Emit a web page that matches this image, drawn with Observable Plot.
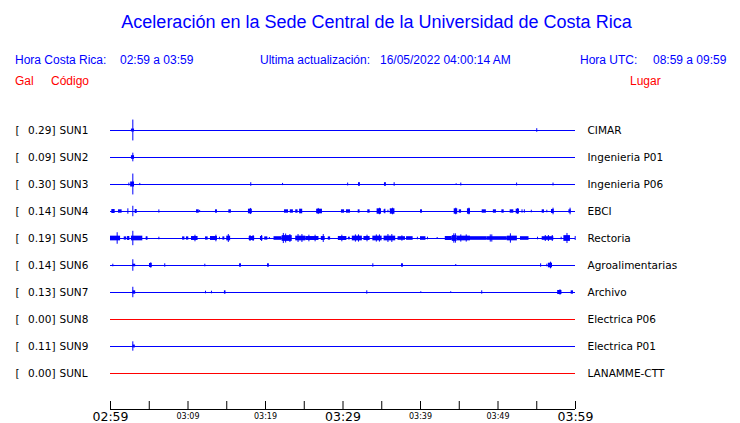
<!DOCTYPE html>
<html><head><meta charset="utf-8">
<script src="https://cdn.jsdelivr.net/npm/d3@7"></script>
<script src="https://cdn.jsdelivr.net/npm/@observablehq/plot@0.6"></script>
<style>
html,body{margin:0;padding:0;background:#fff;}
#wrap{position:relative;width:740px;height:423px;overflow:hidden;}
#head{position:relative;width:740px;height:96px;font-family:"Liberation Sans",Arial,sans-serif;}
#head span{position:absolute;white-space:pre;line-height:1;}
.t{font-size:18px;color:#0000ff;}
.h{font-size:12px;color:#0000ff;}
.r{font-size:12px;color:#ff0000;}
#chart svg{display:block;}
</style></head><body>
<div id="wrap"><div id="head"></div><div id="chart"></div></div>
<script>
// ---------- data ----------
const title = "Aceleración en la Sede Central de la Universidad de Costa Rica";
const headerBlue = [
  ["Hora Costa Rica:", 15], ["02:59 a 03:59", 120],
  ["Ultima actualización:", 260], ["16/05/2022 04:00:14 AM", 380],
  ["Hora UTC:", 580], ["08:59 a 09:59", 653]
];
const headerRed = [["Gal", 15], ["Código", 51], ["Lugar", 630]];

const codes  = ["SUN1","SUN2","SUN3","SUN4","SUN5","SUN6","SUN7","SUN8","SUN9","SUNL"];
const places = ["CIMAR","Ingenieria P01","Ingenieria P06","EBCI","Rectoria","Agroalimentarias","Archivo","Electrica P06","Electrica P01","LANAMME-CTT"];
const peaks  = [0.29, 0.09, 0.30, 0.14, 0.19, 0.14, 0.13, 0.00, 0.11, 0.00];

// single spikes per station: [minutes after 02:59, half amplitude (gal)]
const spikesSUN1 = [[2.88,0.29],[55.0,0.05]];
const spikesSUN2 = [[2.88,0.12]];
const spikesSUN3 = [[2.88,0.29],[2.37,0.04],[3.78,0.03],[18.1,0.05],[22.2,0.03],[30.6,0.04],[36.6,0.05],[44.6,0.02],[45.2,0.04],[52.4,0.04],[57.1,0.04]];
const spikesSUN4 = [[2.24,0.075],[2.88,0.145],[6.24,0.045],[11.5,0.03],[18.05,0.085],[26.8,0.085],[34.7,0.09],[35.4,0.064],[35.8,0.036],[36.4,0.092],[44.55,0.092],[46.25,0.092],[52.55,0.083],[53.1,0.047],[53.4,0.047],[54.3,0.036],[56.3,0.036],[57.1,0.092],[59.3,0.092]];
const spikesSUN5 = [[0.86,0.16],[2.88,0.20],[4.7,0.047],[6.24,0.036],[10.9,0.092],[13.6,0.092],[14.06,0.036],[15.2,0.11],[18.0,0.083],[18.4,0.083],[19.5,0.083],[20.5,0.028],[22.3,0.14],[22.6,0.125],[23.15,0.11],[24.2,0.11],[24.7,0.11],[25.6,0.092],[26.4,0.092],[27.45,0.11],[29.85,0.092],[30.8,0.036],[31.6,0.10],[32.0,0.10],[33.1,0.092],[34.3,0.10],[34.7,0.10],[35.8,0.11],[36.3,0.11],[37.6,0.075],[39.6,0.036],[40.9,0.036],[42.15,0.028],[44.3,0.13],[44.5,0.13],[45.2,0.10],[45.9,0.10],[49.0,0.10],[49.2,0.10],[51.6,0.13],[55.1,0.036],[56.1,0.083],[56.5,0.083],[57.0,0.083],[58.15,0.036],[58.9,0.14],[59.96,0.056]];
const spikesSUN6 = [[0.3,0.036],[2.88,0.16],[5.2,0.075],[7.0,0.047],[12.17,0.036],[33.85,0.047],[44.55,0.028],[55.5,0.047],[56.3,0.036],[56.77,0.092]];
const spikesSUN7 = [[2.88,0.145],[12.26,0.036],[13.03,0.036],[33.07,0.047],[40.04,0.02],[43.9,0.02],[47.9,0.047],[58.0,0.075]];
const spikesSUN8 = [];
const spikesSUN9 = [[2.88,0.13]];
const spikesSUNL = [];

// bursts of activity: [start minute, end minute, half amplitude (gal)]
const burstsSUN1 = [[2.7,3.1,0.04]];
const burstsSUN2 = [[2.7,3.1,0.05]];
const burstsSUN3 = [[2.6,3.1,0.07],[32.0,32.25,0.05],[35.35,35.6,0.05]];
const burstsSUN4 = [[0.17,0.6,0.055],[1.03,1.5,0.047],[3.18,3.44,0.055],[11.1,11.45,0.047],[13.55,13.8,0.047],[15.27,15.6,0.047],[17.8,18.3,0.064],[22.45,22.97,0.047],[23.2,23.6,0.047],[23.9,24.2,0.047],[24.4,24.8,0.064],[26.6,27.35,0.064],[29.8,30.2,0.047],[30.45,30.97,0.047],[31.96,32.2,0.047],[33.2,33.5,0.047],[34.4,34.97,0.075],[35.3,35.5,0.047],[36.1,36.7,0.075],[40,40.26,0.047],[44.35,44.8,0.075],[45.0,45.3,0.047],[46.06,46.45,0.075],[47.96,48.5,0.047],[49.4,49.8,0.047],[50.5,50.8,0.047],[51.57,52.04,0.047],[52.35,52.77,0.064],[55.7,56.0,0.047],[56.9,57.25,0.056],[59.15,59.45,0.047]];
const burstsSUN5 = [[0,1.3,0.065],[1.77,2.1,0.045],[2.2,2.5,0.055],[2.7,4.17,0.065],[4.6,4.8,0.045],[9.3,9.6,0.045],[9.8,10.1,0.045],[10.45,11.3,0.055],[12.26,12.6,0.045],[12.9,13.8,0.055],[14.5,14.75,0.045],[15.0,15.5,0.065],[17.9,18.6,0.055],[19.35,19.65,0.055],[19.9,20.3,0.045],[21.1,22.15,0.05],[22.15,23.45,0.08],[23.9,25.2,0.065],[25.2,26.9,0.055],[27.2,27.7,0.055],[28.1,28.4,0.045],[29.4,30.5,0.055],[30.7,30.9,0.036],[31.2,32.5,0.065],[32.7,33.5,0.055],[33.85,35.05,0.065],[35.3,36.8,0.065],[37.1,38.06,0.05],[38.2,39.05,0.05],[40,40.7,0.05],[43.2,44.1,0.055],[44.1,44.7,0.08],[44.7,46.45,0.065],[46.45,48.6,0.05],[48.6,51.2,0.05],[51.2,52.5,0.065],[52.9,54,0.05],[55.7,57.2,0.05],[58.5,59.35,0.08]];
const burstsSUN6 = [[2.9,3.25,0.036],[5.03,5.38,0.056],[16.65,16.9,0.047],[20.26,20.5,0.047],[37.55,37.8,0.047],[56.5,57.03,0.064]];
const burstsSUN7 = [[2.9,3.25,0.047],[14.7,14.9,0.047],[57.7,58.25,0.056],[59.44,59.74,0.047]];
const burstsSUN8 = [];
const burstsSUN9 = [[2.9,3.2,0.04]];
const burstsSUNL = [];

const spikes = [spikesSUN1,spikesSUN2,spikesSUN3,spikesSUN4,spikesSUN5,spikesSUN6,spikesSUN7,spikesSUN8,spikesSUN9,spikesSUNL];
const bursts = [burstsSUN1,burstsSUN2,burstsSUN3,burstsSUN4,burstsSUN5,burstsSUN6,burstsSUN7,burstsSUN8,burstsSUN9,burstsSUNL];

const startUTC = Date.UTC(2022, 4, 16, 2, 59);   // window start (local clock 02:59)
const windowMin = 60;
const tickMinutes = d3.range(0, windowMin + 1, 5);
const majorLabelMinutes = [0, 30, 60];
const minorLabelMinutes = [10, 20, 40, 50];

// ---------- header ----------
const head = document.getElementById("head");
function addSpan(txt, cls, css){ const s=document.createElement("span"); s.className=cls; s.textContent=txt; Object.assign(s.style, css); head.appendChild(s); }
addSpan(title, "t", {left:"376.5px", top:"13px", transform:"translateX(-50%)"});
headerBlue.forEach(([txt,x]) => addSpan(txt, "h", {left:x+"px", top:"54px"}));
headerRed.forEach(([txt,x]) => addSpan(txt, "r", {left:x+"px", top:"74.5px"}));

// ---------- chart ----------
const t = m => new Date(startUTC + m * 60000);
const GAIN = 36 / 27;          // rows per gal
const yBottom = 31 / 3;        // axis line position in row units
const rows = codes.map((c, i) => ({i, code: c, place: places[i], peak: peaks[i], live: peaks[i] > 0}));
const spikeData = spikes.flatMap((arr, i) => arr.map(([m, a]) => ({i, m, a})));
const burstData = bursts.flatMap((arr, i) => arr.map(([m1, m2, a]) => ({i, m1, m2, a})));
const fmt = d3.utcFormat("%H:%M");
const BLUE = "#0000ff", RED = "#ff0000";

const chart = Plot.plot({
  width: 740, height: 327,
  marginLeft: 110, marginRight: 165, marginTop: 7, marginBottom: 14,
  style: {fontFamily: "DejaVu Sans", fontSize: "10.5px", color: "#000", background: "transparent", overflow: "visible"},
  x: {type: "utc", domain: [t(0), t(windowMin)], axis: null},
  y: {domain: [yBottom, -1], axis: null},
  marks: [
    Plot.ruleY(rows.filter(d => d.live), {y: "i", stroke: BLUE}),
    Plot.ruleY(rows.filter(d => !d.live), {y: "i", stroke: RED}),
    Plot.rect(burstData, {x1: d => t(d.m1), x2: d => t(d.m2), y1: d => d.i - d.a * GAIN, y2: d => d.i + d.a * GAIN, fill: BLUE}),
    Plot.ruleX(spikeData, {x: d => t(d.m), y1: d => d.i - d.a * GAIN, y2: d => d.i + d.a * GAIN, stroke: BLUE}),
    Plot.text(rows, {y: "i", frameAnchor: "left", dx: -95, text: () => "[", textAnchor: "start"}),
    Plot.text(rows, {y: "i", frameAnchor: "left", dx: -55, text: d => d.peak.toFixed(2) + "]", textAnchor: "end"}),
    Plot.text(rows, {y: "i", frameAnchor: "left", dx: -51, text: "code", textAnchor: "start"}),
    Plot.text(rows, {y: "i", frameAnchor: "right", dx: 12, text: "place", textAnchor: "start"}),
    Plot.ruleY([yBottom], {stroke: "#000"}),
    Plot.axisX({ticks: tickMinutes.map(t), tickSize: -8, tickFormat: () => "", stroke: "#000"}),
    Plot.axisX({ticks: majorLabelMinutes.map(t), tickSize: 0, tickPadding: 3, tickFormat: fmt, fontSize: 12.5, fill: "#000"}),
    Plot.axisX({ticks: minorLabelMinutes.map(t), tickSize: 0, tickPadding: 4, tickFormat: fmt, fontSize: 8, fill: "#000"})
  ]
});
document.getElementById("chart").appendChild(chart);
</script>
</body></html>
